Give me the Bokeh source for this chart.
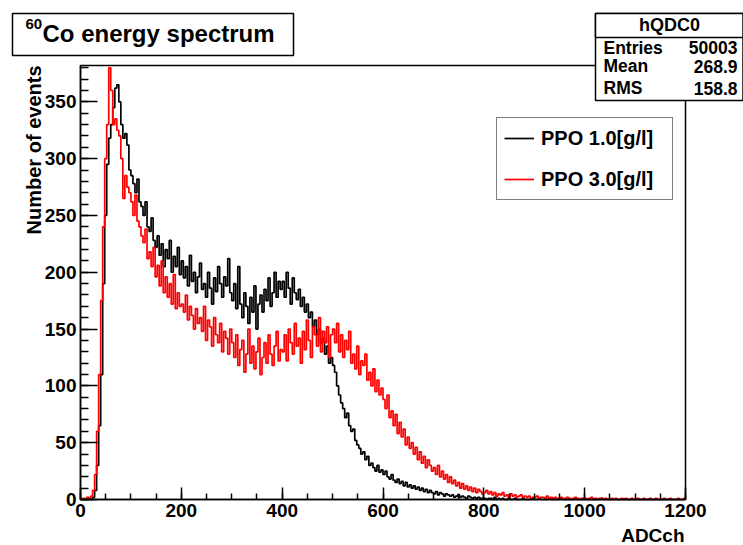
import math
from bokeh.plotting import figure
from bokeh.models import (Range1d, SingleIntervalTicker, Label, BoxAnnotation,
                          Legend, LegendItem, LinearAxis)
from bokeh.embed import file_html
from bokeh.resources import INLINE

# ---------------- data ----------------
BIN_START = 0      # ADC channel of the first bin edge
BIN_WIDTH = 4      # ADC channels per bin

# PPO 1.0 [g/l]  (black), 300 bins from 0 to 1200
ppo1_counts = [
    0, 0, 0, 0, 0, 0, 2, 8, 30, 65, 110, 190, 250, 295, 318, 330, 345, 362, 365, 350, 330, 318, 322, 312, 290,
    285, 278, 270, 282, 262, 258, 250, 262, 240, 236, 248, 228, 222, 232, 215, 225, 205, 220, 212, 228, 200, 214, 205, 222, 198,
    210, 195, 205, 188, 215, 192, 200, 182, 196, 208, 185, 190, 178, 200, 186, 172, 195, 183, 205, 190, 178, 196, 188, 212, 182,
    175, 190, 168, 205, 172, 160, 182, 170, 155, 178, 165, 188, 150, 172, 180, 165, 185, 175, 195, 170, 182, 200, 178, 192, 185,
    192, 178, 200, 186, 172, 195, 182, 176, 185, 170, 178, 165, 172, 160, 165, 152, 158, 145, 150, 138, 142, 128, 135, 120, 125,
    118, 112, 100, 92, 85, 80, 72, 76, 65, 60, 62, 52, 48, 45, 40, 42, 35, 38, 30, 32, 28, 25, 30, 24, 26,
    22, 25, 20, 18, 22, 17, 15, 18, 14, 16, 12, 15, 11, 13, 10, 12, 9, 11, 8, 10, 7, 9, 6, 8, 6,
    5, 7, 4, 6, 5, 3, 5, 4, 3, 4, 2, 3, 4, 2, 3, 2, 1, 3, 2, 1, 2, 1, 2, 1, 1,
    1, 0, 1, 1, 0, 2, 0, 1, 0, 1, 0, 0, 1, 0, 0, 1, 0, 0, 0, 1, 0, 0, 0, 0, 1,
    0, 0, 1, 0, 0, 0, 0, 1, 0, 0, 0, 0, 0, 1, 0, 0, 0, 0, 0, 0, 1, 0, 0, 0, 0,
    0, 0, 0, 0, 0, 0, 0, 0, 1, 0, 0, 0, 0, 0, 0, 0, 0, 0, 0, 0, 0, 0, 0, 0, 0,
    0, 0, 0, 0, 0, 0, 0, 0, 0, 0, 0, 0, 0, 0, 0, 0, 0, 0, 0, 0, 0, 0, 0, 0, 0,
]

# PPO 3.0 [g/l]  (red), 300 bins from 0 to 1200
ppo3_counts = [
    0, 1, 0, 2, 1, 3, 8, 22, 60, 110, 175, 240, 300, 330, 380, 360, 330, 335, 325, 320, 300, 265, 285, 275, 270,
    262, 250, 268, 245, 240, 232, 226, 238, 212, 218, 205, 222, 196, 206, 188, 210, 182, 196, 178, 190, 172, 198, 168, 182, 170,
    172, 165, 180, 158, 170, 162, 150, 168, 155, 160, 148, 170, 140, 158, 152, 135, 160, 145, 138, 155, 130, 148, 142, 128, 150,
    138, 125, 145, 118, 132, 140, 112, 128, 150, 120, 135, 115, 130, 142, 110, 125, 138, 120, 145, 128, 118, 135, 148, 122, 132,
    130, 145, 122, 150, 138, 128, 155, 135, 142, 120, 148, 132, 158, 140, 125, 152, 145, 135, 160, 130, 148, 138, 152, 125, 145,
    150, 138, 155, 130, 145, 125, 140, 132, 148, 120, 128, 115, 135, 110, 122, 118, 128, 105, 112, 100, 115, 95, 105, 92, 98,
    88, 80, 92, 72, 78, 65, 75, 58, 68, 55, 62, 48, 55, 45, 50, 40, 46, 35, 42, 32, 38, 28, 35, 30, 25,
    28, 22, 30, 20, 25, 18, 22, 15, 20, 14, 17, 12, 15, 10, 14, 9, 12, 8, 11, 7, 10, 6, 9, 7, 5,
    6, 8, 5, 7, 4, 6, 3, 5, 4, 6, 3, 4, 2, 5, 3, 4, 2, 3, 4, 2, 3, 2, 3, 1, 2,
    2, 3, 1, 2, 2, 1, 3, 1, 2, 1, 2, 1, 1, 2, 0, 1, 2, 1, 0, 1, 2, 1, 0, 1, 1,
    1, 0, 1, 2, 0, 1, 0, 1, 1, 0, 1, 0, 0, 1, 0, 1, 0, 0, 1, 0, 1, 0, 0, 1, 0,
    0, 1, 0, 0, 1, 0, 0, 1, 0, 0, 1, 0, 0, 0, 1, 0, 0, 1, 0, 0, 0, 1, 0, 0, 1,
]

series_labels = ["PPO 1.0[g/l]", "PPO 3.0[g/l]"]
series_colors = ["#000000", "#ff0000"]
title_sup = "60"
title_main = "Co energy spectrum"
x_title = "ADCch"
y_title = "Number of events"
stats_name = "hQDC0"
stats_keys = ["Entries", "Mean", "RMS"]
stats_vals = ["50003", "268.9", "158.8"]
X_MIN, X_MAX = 0, 1200
Y_MIN, Y_MAX = 0, 382

# ---------------- layout ----------------
W, H = 743, 545
FL, FR, FT, FB = 80, 685, 65, 499      # pixel box of the histogram frame
FONT = "Liberation Sans"


def X(px):
    return X_MIN + (px - FL) / (FR - FL) * (X_MAX - X_MIN)


def Y(py):
    return Y_MIN + (FB - py) / (FB - FT) * (Y_MAX - Y_MIN)


# the plotting frame covers the whole canvas; the axes are pinned at 0
p = figure(width=W, height=H, x_range=Range1d(X(0), X(W)), y_range=Range1d(Y(H), Y(0)),
           output_backend="svg", toolbar_location=None, min_border=0,
           x_axis_location=None, y_axis_location=None)
p.background_fill_color = "white"
p.border_fill_color = "white"
p.outline_line_color = None
p.xgrid.visible = False
p.ygrid.visible = False

xaxis = LinearAxis(fixed_location=Y_MIN, bounds=(X_MIN, X_MAX),
                   ticker=SingleIntervalTicker(interval=200, num_minor_ticks=4))
yaxis = LinearAxis(fixed_location=X_MIN, bounds=(Y_MIN, Y_MAX),
                   ticker=SingleIntervalTicker(interval=50, num_minor_ticks=5))
for ax in (xaxis, yaxis):
    ax.axis_line_width = 1.5
    ax.axis_line_color = "black"
    ax.major_tick_out = 0
    ax.minor_tick_out = 0
    ax.major_tick_line_width = 1.5
    ax.minor_tick_line_width = 1.5
    ax.major_label_text_font = FONT
    ax.major_label_text_font_style = "bold"
    ax.major_label_text_font_size = "19px"
    ax.major_label_text_color = "black"
    ax.major_label_standoff = 4
xaxis.major_tick_in = 12
xaxis.minor_tick_in = 6
yaxis.major_tick_in = 17
yaxis.minor_tick_in = 8
p.add_layout(xaxis, "below")
p.add_layout(yaxis, "left")


def outline(counts):
    xs = [BIN_START]
    ys = [0]
    for i, c in enumerate(counts):
        x0 = BIN_START + i * BIN_WIDTH
        xs += [x0, x0 + BIN_WIDTH]
        ys += [c, c]
    xs.append(BIN_START + len(counts) * BIN_WIDTH)
    ys.append(0)
    return xs, ys


renderers = []
for counts, col in zip([ppo1_counts, ppo3_counts], series_colors):
    xs, ys = outline(counts)
    renderers.append(p.line(xs, ys, line_color=col, line_width=1.7))

# histogram frame (top and right edges)
p.add_layout(BoxAnnotation(left=X_MIN, right=X_MAX, bottom=Y_MIN, top=Y_MAX,
                           fill_color=None, fill_alpha=0, line_color="black",
                           line_width=1.5, line_alpha=1.0))

legend = Legend(items=[LegendItem(label=lab, renderers=[r]) for lab, r in zip(series_labels, renderers)],
                location=(496, H - 200), orientation="vertical",
                border_line_color="black", border_line_width=1.5,
                background_fill_color="white", background_fill_alpha=1.0,
                padding=7, spacing=15, margin=0,
                glyph_width=30, glyph_height=26, label_height=26, label_width=124,
                label_standoff=7, label_text_font=FONT, label_text_font_style="bold",
                label_text_font_size="20px", label_text_color="black")
p.add_layout(legend)


def box(l, t, r, b):
    p.add_layout(BoxAnnotation(left=X(l), right=X(r), top=Y(t), bottom=Y(b),
                               fill_color="white", fill_alpha=1.0,
                               line_color="black", line_width=1.5, line_alpha=1.0))


def label(px, py, text, size, align="left", angle=0.0):
    # (px, py): pixel position of the text's horizontal anchor and vertical middle
    p.add_layout(Label(x=X(px), y=Y(py), text=text, text_font=FONT, text_font_style="bold",
                       text_font_size=size, text_align=align, text_baseline="middle",
                       text_color="black", angle=angle))


# title box
box(12, 13, 293, 55)
label(25, 23, title_sup, "15px")
label(42, 33, title_main, "24px")

# stats box
box(595, 13, 742.5, 100)
box(595, 13, 742.5, 37)
label(669, 24.5, stats_name, "18px", align="center")
for i, (k, v) in enumerate(zip(stats_keys, stats_vals)):
    cy = [47, 65.5, 87.5][i]
    label(603, cy, k, "17.5px")
    label(737, cy, v, "17.5px", align="right")

# axis titles
label(33, 65, y_title, "20px", align="right", angle=math.pi / 2)
label(684, 535, x_title, "19px", align="right")

open("out.html", "w").write(file_html(p, INLINE))
